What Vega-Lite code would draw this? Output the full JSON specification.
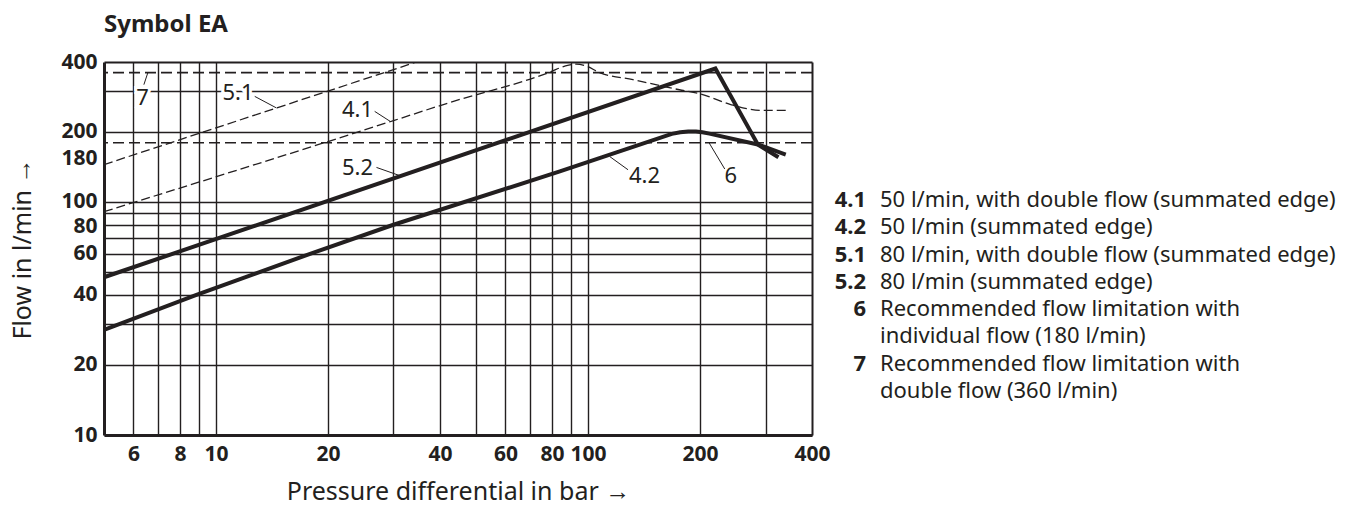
{
  "$schema": "https://vega.github.io/schema/vega-lite/v6.json",
  "autosize": {"type": "none"},
  "width": 708,
  "height": 373,
  "padding": {"left": 104, "top": 62, "right": 548, "bottom": 74},
  "background": "#ffffff",
  "title": {"text": "Symbol EA", "anchor": "start", "frame": "group", "font": "Noto Sans", "fontSize": 24, "fontWeight": "bold", "color": "#231f20", "offset": 14},
  "config": {
    "view": {"stroke": null},
    "font": "Noto Sans",
    "axis": {
      "labelFont": "Noto Sans", "labelFontSize": 21, "labelFontWeight": "bold", "labelColor": "#231f20",
      "titleFont": "Noto Sans", "titleFontSize": 25, "titleFontWeight": "normal", "titleColor": "#231f20",
      "domainColor": "#231f20", "domainWidth": 3, "gridColor": "#231f20", "gridOpacity": 1,
      "ticks": false, "tickSize": 0, "labelOverlap": false, "labelFlush": false, "labelBound": false
    }
  },
  "datasets": {
    "curves": [
      {"series": "5.1", "p": 5, "q": 145}, {"series": "5.1", "p": 34.6, "q": 400},
      {"series": "4.1", "p": 5, "q": 91}, {"series": "4.1", "p": 30, "q": 224}, {"series": "4.1", "p": 42.5, "q": 268},
      {"series": "4.1", "p": 79, "q": 362}, {"series": "4.1", "p": 87, "q": 385}, {"series": "4.1", "p": 93, "q": 392},
      {"series": "4.1", "p": 99, "q": 384}, {"series": "4.1", "p": 107, "q": 361}, {"series": "4.1", "p": 132, "q": 336},
      {"series": "4.1", "p": 176, "q": 304}, {"series": "4.1", "p": 200, "q": 292}, {"series": "4.1", "p": 243, "q": 262},
      {"series": "4.1", "p": 267, "q": 252}, {"series": "4.1", "p": 289, "q": 248}, {"series": "4.1", "p": 345, "q": 248},
      {"series": "5.2", "p": 5, "q": 47.6}, {"series": "5.2", "p": 220, "q": 375}, {"series": "5.2", "p": 286, "q": 177}, {"series": "5.2", "p": 340, "q": 160},
      {"series": "4.2", "p": 5, "q": 28.3}, {"series": "4.2", "p": 8.86, "q": 40}, {"series": "4.2", "p": 17.9, "q": 60},
      {"series": "4.2", "p": 30, "q": 80}, {"series": "4.2", "p": 84, "q": 135.5}, {"series": "4.2", "p": 168, "q": 196.5},
      {"series": "4.2", "p": 177, "q": 199.5}, {"series": "4.2", "p": 186, "q": 201}, {"series": "4.2", "p": 195, "q": 201},
      {"series": "4.2", "p": 203, "q": 199.5}, {"series": "4.2", "p": 212, "q": 197},
      {"series": "4.2", "p": 286, "q": 177}, {"series": "4.2", "p": 325, "q": 156}
    ],
    "limits": [{"limit": "6", "q": 180}, {"limit": "7", "q": 360}],
    "callouts": [
      {"label": "7", "p": 6.35, "q": 281},
      {"label": "5.1", "p": 11.46, "q": 293.4},
      {"label": "4.1", "p": 24.0, "q": 247.6},
      {"label": "5.2", "p": 24.0, "q": 140.6},
      {"label": "4.2", "p": 141.8, "q": 129},
      {"label": "6", "p": 241.8, "q": 129}
    ],
    "leaders": [
      {"label": "7", "p": 6.4, "q": 319.7, "p2": 6.56, "q2": 360},
      {"label": "5.1", "p": 12.71, "q": 284.7, "p2": 14.54, "q2": 253.9},
      {"label": "4.1", "p": 26.7, "q": 245.5, "p2": 29.4, "q2": 222.3},
      {"label": "5.2", "p": 27.0, "q": 141.0, "p2": 31.2, "q2": 130},
      {"label": "4.2", "p": 128.1, "q": 137.8, "p2": 114.4, "q2": 157},
      {"label": "6", "p": 233.1, "q": 138.8, "p2": 211.5, "q2": 180}
    ],
    "legend": [
      {"key": "4.1", "desc": "50 l/min, with double flow (summated edge)", "row": 1},
      {"key": "4.2", "desc": "50 l/min (summated edge)", "row": 2},
      {"key": "5.1", "desc": "80 l/min, with double flow (summated edge)", "row": 3},
      {"key": "5.2", "desc": "80 l/min (summated edge)", "row": 4},
      {"key": "6", "desc": "Recommended flow limitation with", "row": 5},
      {"key": "", "desc": "individual flow (180 l/min)", "row": 6},
      {"key": "7", "desc": "Recommended flow limitation with", "row": 7},
      {"key": "", "desc": "double flow (360 l/min)", "row": 8}
    ]
  },
  "layer": [
    {
      "layer": [
        {
          "data": {"name": "limits"},
          "mark": {"type": "rule", "strokeDash": [11, 5], "strokeWidth": 1.6, "color": "#231f20"},
          "encoding": {
            "y": {
              "field": "q", "type": "quantitative",
              "scale": {"type": "log", "domain": [10, 400], "nice": false},
              "axis": {
                "title": "Flow in l/min →",
                "values": [10, 20, 30, 40, 50, 60, 70, 80, 90, 100, 180, 200, 300, 400],
                "labelExpr": "indexof([10, 20, 40, 60, 80, 100, 180, 200, 400], datum.value) >= 0 ? '' + datum.value : ''",
                "gridOpacity": {"condition": {"test": "datum.value === 180", "value": 0}, "value": 1},
                "gridWidth": {"condition": {"test": "datum.value === 400", "value": 2}, "value": 1.4},
                "labelOffset": {"condition": [{"test": "datum.value === 180", "value": 16}, {"test": "datum.value === 200", "value": -1}, {"test": "datum.value === 80", "value": 2}, {"test": "datum.value === 100", "value": -1}], "value": 0},
                "labelPadding": 7,
                "titlePadding": 25
              }
            }
          }
        },
        {
          "data": {"name": "callouts"},
          "mark": {"type": "text", "fontSize": 22, "font": "Noto Sans", "align": "center", "baseline": "middle", "stroke": "#ffffff", "strokeWidth": 6, "fill": "#ffffff"},
          "encoding": {
            "x": {"field": "p", "type": "quantitative", "scale": {"type": "log", "domain": [5, 400], "nice": false}},
            "y": {"field": "q", "type": "quantitative"},
            "text": {"field": "label"}
          }
        },
        {
          "data": {"name": "callouts"},
          "mark": {"type": "text", "fontSize": 22, "font": "Noto Sans", "align": "center", "baseline": "middle", "color": "#231f20"},
          "encoding": {
            "x": {"field": "p", "type": "quantitative"},
            "y": {"field": "q", "type": "quantitative"},
            "text": {"field": "label"}
          }
        },
        {
          "data": {"name": "leaders"},
          "mark": {"type": "rule", "strokeWidth": 1, "color": "#231f20"},
          "encoding": {
            "x": {"field": "p", "type": "quantitative"},
            "x2": {"field": "p2"},
            "y": {"field": "q", "type": "quantitative"},
            "y2": {"field": "q2"}
          }
        },
        {
          "data": {"name": "curves"},
          "transform": [{"filter": "datum.series === '4.1' || datum.series === '5.1'"}],
          "mark": {"type": "line", "interpolate": "monotone", "strokeWidth": 1.3, "strokeDash": [9, 4], "color": "#231f20", "clip": true},
          "encoding": {
            "x": {
              "field": "p", "type": "quantitative",
              "scale": {"type": "log", "domain": [5, 400], "nice": false},
              "axis": {
                "title": "Pressure differential in bar →",
                "values": [6, 7, 8, 9, 10, 20, 30, 40, 50, 60, 70, 80, 90, 100, 200, 300, 400],
                "labelExpr": "indexof([6, 8, 10, 20, 40, 60, 80, 100, 200, 400], datum.value) >= 0 ? '' + datum.value : ''",
                "gridWidth": {"condition": {"test": "datum.value === 400", "value": 2}, "value": 1.4},
                "labelPadding": 8,
                "titlePadding": 15
              }
            },
            "y": {"field": "q", "type": "quantitative"},
            "detail": {"field": "series"}
          }
        },
        {
          "data": {"name": "curves"},
          "transform": [{"filter": "datum.series === '5.2'"}],
          "mark": {"type": "line", "strokeWidth": 4, "strokeJoin": "miter", "color": "#231f20", "clip": true},
          "encoding": {
            "x": {"field": "p", "type": "quantitative"},
            "y": {"field": "q", "type": "quantitative"},
            "detail": {"field": "series"}
          }
        },
        {
          "data": {"name": "curves"},
          "transform": [{"filter": "datum.series === '4.2'"}],
          "mark": {"type": "line", "strokeWidth": 4, "strokeJoin": "round", "color": "#231f20", "clip": true},
          "encoding": {
            "x": {"field": "p", "type": "quantitative"},
            "y": {"field": "q", "type": "quantitative"},
            "detail": {"field": "series"}
          }
        }
      ]
    },
    {
      "data": {"name": "legend"},
      "layer": [
        {
          "mark": {"type": "text", "align": "right", "baseline": "middle", "dx": 54, "font": "Noto Sans", "fontSize": 22, "fontWeight": "bold", "color": "#231f20"},
          "encoding": {
            "x": {"datum": 400, "type": "quantitative"},
            "y": {"field": "row", "type": "quantitative", "scale": {"domain": [-4.057, 9.611], "nice": false, "zero": false, "reverse": true}, "axis": null},
            "text": {"field": "key"}
          }
        },
        {
          "mark": {"type": "text", "align": "left", "baseline": "middle", "dx": 68, "font": "Noto Sans", "fontSize": 22, "color": "#231f20"},
          "encoding": {
            "x": {"datum": 400, "type": "quantitative"},
            "y": {"field": "row", "type": "quantitative"},
            "text": {"field": "desc"}
          }
        }
      ]
    }
  ],
  "resolve": {"scale": {"y": "independent"}}
}
